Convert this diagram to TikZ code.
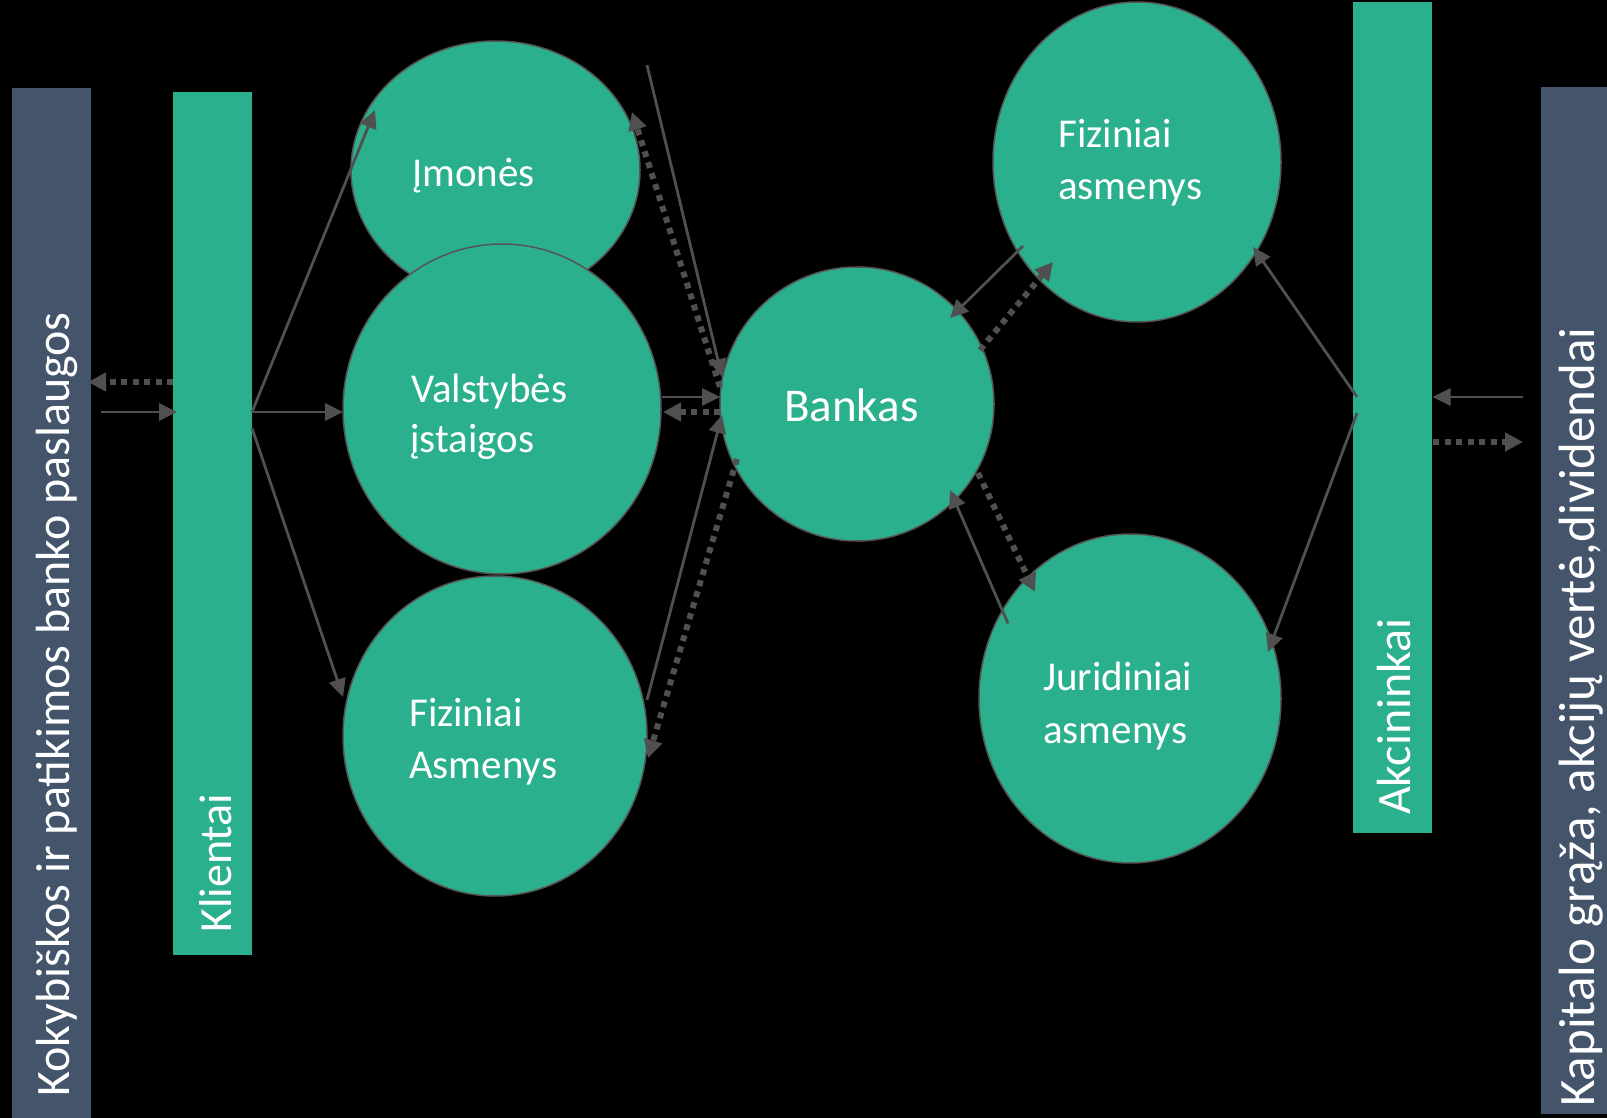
\documentclass[tikz,border=0pt]{standalone}
\usepackage{fontspec}
\setmainfont{Carlito}
\usetikzlibrary{shapes.geometric,arrows.meta}
\definecolor{tealc}{RGB}{43,176,142}
\definecolor{slatec}{RGB}{68,84,106}
\definecolor{arrowc}{RGB}{80,80,80}
\definecolor{rimc}{RGB}{85,85,85}
\tikzset{
  bar/.style={rectangle, inner sep=0pt, outer sep=0pt, draw=none},
  circ/.style={ellipse, fill=tealc, draw=rimc, line width=1.5pt, inner sep=0pt, outer sep=0pt},
  ctext/.style={text=white, inner sep=0pt, anchor=base west, font=\fontsize{41}{50}\selectfont},
  btext/.style={text=white, inner sep=0pt, anchor=base west, rotate=90, font=\fontsize{46}{55}\selectfont},
  arr/.style={draw=arrowc, line width=2.8pt, -{Triangle[length=18pt,width=17pt]}},
  darr/.style={draw=arrowc, line width=6pt, dash pattern=on 6pt off 5.5pt, -{Triangle[length=18pt,width=18pt]}}
}
\begin{document}
\begin{tikzpicture}[x=1pt,y=-1pt]
\useasboundingbox (0,0) rectangle (1607,1118);
\fill[black] (0,0) rectangle (1607,1118);
\clip (0,0) rectangle (1607,1118);
% bars
\node[bar, fill=slatec, minimum width=79pt, minimum height=1030pt] (lbar) at (51.5,603) {};
\node[bar, fill=tealc, minimum width=79pt, minimum height=863pt] (klientai) at (212.5,523.5) {};
\node[bar, fill=tealc, minimum width=79pt, minimum height=831pt] (akc) at (1392.5,417.5) {};
\node[bar, fill=slatec, minimum width=66pt, minimum height=1027pt] (rbar) at (1574,600.5) {};
% circles
\node[circ, minimum width=289pt, minimum height=258pt] (imones) at (495.5,170) {};
\node[circ, minimum width=318pt, minimum height=330pt] (valst) at (502,409) {};
\node[circ, minimum width=304pt, minimum height=320pt] (fizA) at (495,736) {};
\node[circ, minimum width=274pt, minimum height=274pt] (bankas) at (857,404) {};
\node[circ, minimum width=288pt, minimum height=320pt] (fizR) at (1137,162) {};
\node[circ, minimum width=302pt, minimum height=329pt] (jurid) at (1130,698.5) {};
% texts
\node[btext, font=\fontsize{48}{56}\selectfont] (tl) at (69,1097) {Kokybiškos ir patikimos banko paslaugos};
\node[btext] (tk) at (231,933) {Klientai};
\node[btext, font=\fontsize{48}{56}\selectfont] (ta) at (1410,815) {Akcininkai};
\node[btext, font=\fontsize{51}{60}\selectfont] (tr) at (1594,1107) {Kapitalo grąža, akcijų vertė,dividendai};
\node[ctext] (ti) at (412,187) {Įmonės};
\node[ctext] (tv1) at (411,402) {Valstybės};
\node[ctext] (tv2) at (410,452) {įstaigos};
\node[ctext] (tf1) at (409,726) {Fiziniai};
\node[ctext] (tf2) at (409,778) {Asmenys};
\node[ctext, font=\fontsize{47}{56}\selectfont] (tb) at (784,421) {Bankas};
\node[ctext] (tr1) at (1058,148) {Fiziniai};
\node[ctext] (tr2) at (1058,200) {asmenys};
\node[ctext] (tj1) at (1043,690) {Juridiniai};
\node[ctext] (tj2) at (1043,743) {asmenys};
% free end
\coordinate (free) at (647,65);
% left arrows
\draw[darr] ([shift={(0,-141.5)}]klientai.west) -- ([shift={(-3,-221)}]lbar.east);
\draw[arr] ([shift={(10,-191)}]lbar.east) -- ([shift={(4,-111.5)}]klientai.west);
\draw[arr] ([shift={(0,-111.5)}]klientai.east) -- ([shift={(-120.5,-60)}]imones.center);
\draw[arr] ([shift={(0,-111.5)}]klientai.east) -- ([shift={(-159,3)}]valst.center);
\draw[arr] ([shift={(0,-95.5)}]klientai.east) -- ([shift={(-152,-39)}]fizA.center);
% middle arrows
\draw[arr] (free) -- ([shift={(-135,-27)}]bankas.center);
\draw[darr] ([shift={(-137,-17)}]bankas.center) -- ([shift={(136.5,-58)}]imones.center);
\draw[arr] ([shift={(160,-12)}]valst.center) -- ([shift={(-137,-7)}]bankas.center);
\draw[darr] ([shift={(-137,8)}]bankas.center) -- ([shift={(161,3)}]valst.center);
\draw[arr] ([shift={(152,-36)}]fizA.center) -- ([shift={(-135,11)}]bankas.center);
\draw[darr] ([shift={(-120,55)}]bankas.center) -- ([shift={(153,22)}]fizA.center);
% right arrows
\draw[arr] ([shift={(-114,84)}]fizR.center) -- ([shift={(93,-86)}]bankas.center);
\draw[darr] ([shift={(123,-54)}]bankas.center) -- ([shift={(-84,100)}]fizR.center);
\draw[darr] ([shift={(121,69)}]bankas.center) -- ([shift={(-95,-106.5)}]jurid.center);
\draw[arr] ([shift={(-122,-75)}]jurid.center) -- ([shift={(93,86)}]bankas.center);
\draw[arr] ([shift={(4,-20.5)}]akc.west) -- ([shift={(116,85)}]fizR.center);
\draw[arr] ([shift={(4,-4.5)}]akc.west) -- ([shift={(138,-46.5)}]jurid.center);
\draw[arr] ([shift={(-18,-203.5)}]rbar.west) -- ([shift={(0.5,-20.5)}]akc.east);
\draw[darr] ([shift={(1,24.5)}]akc.east) -- ([shift={(-18,-158.5)}]rbar.west);
\end{tikzpicture}
\end{document}
